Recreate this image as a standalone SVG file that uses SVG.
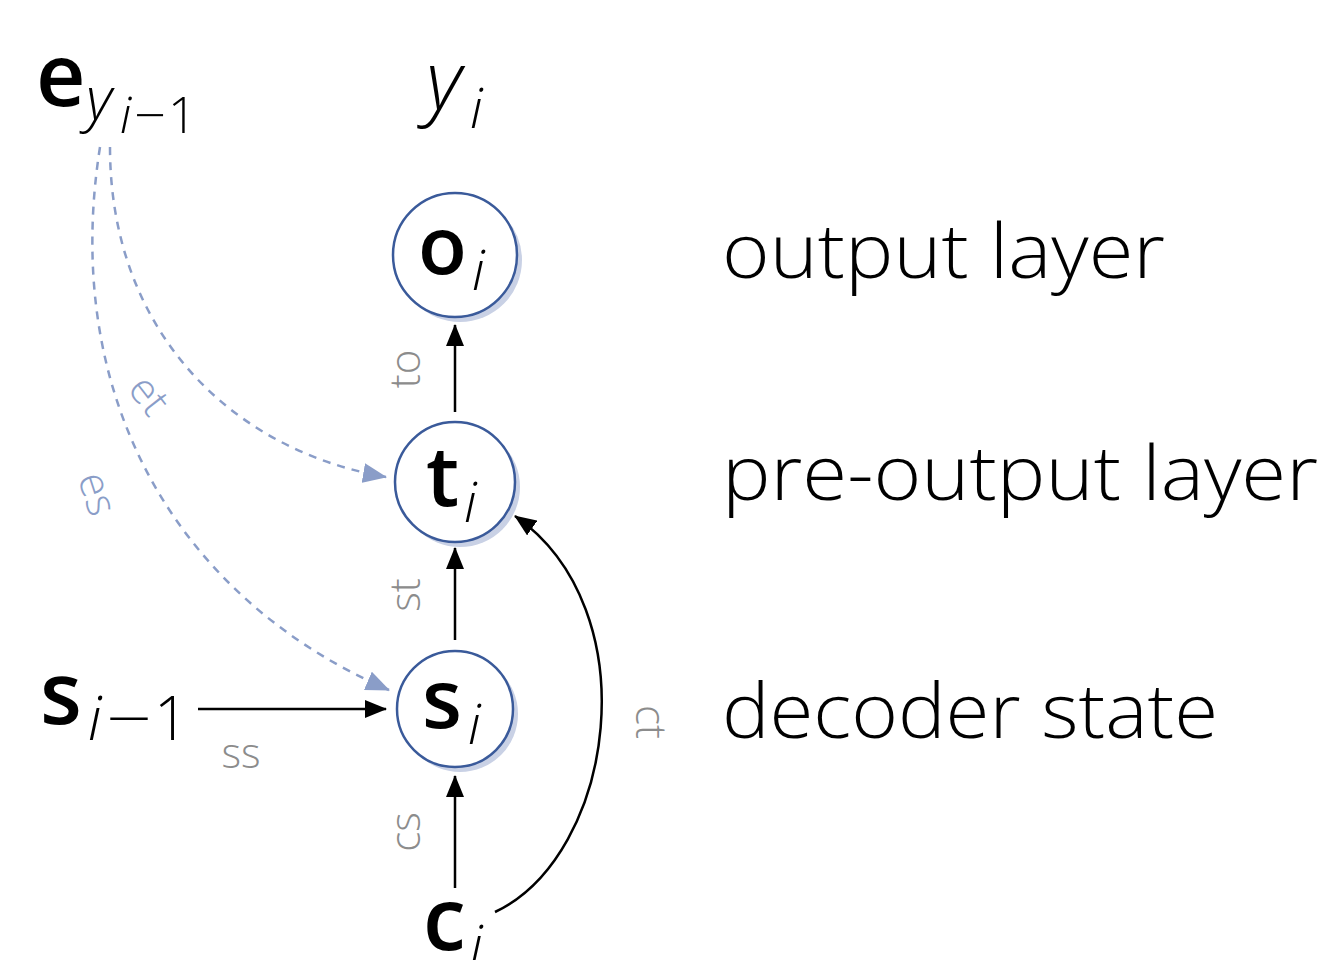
<svg xmlns="http://www.w3.org/2000/svg" width="1328" height="960" viewBox="0 0 1328 960">
<style>
.bold{font-family:"Open Sans","Noto Sans",sans-serif;font-weight:600;fill:#000}
.it{font-family:"Open Sans","Noto Sans",sans-serif;font-style:italic;font-weight:300;fill:#000}
.lt{font-family:"Open Sans","Noto Sans",sans-serif;font-weight:300;fill:#000}
.lab{font-family:"Open Sans","Noto Sans",sans-serif;font-weight:300;font-size:42px;fill:#8c8c8c}
.elab{font-family:"Open Sans","Noto Sans",sans-serif;font-weight:300;font-size:42px;fill:#8a9dc8}
.big{font-family:"Open Sans","Noto Sans",sans-serif;font-weight:300;font-size:76px;fill:#000}
.node{fill:#fff;stroke:#3a5a9a;stroke-width:2.5}
.shadow{fill:#c9d1e5}
.edge{fill:none;stroke:#000;stroke-width:2.5}
.dash{fill:none;stroke:#8a9dc8;stroke-width:2.5;stroke-dasharray:8 7}
</style>
<defs>
<marker id="ah" markerWidth="22" markerHeight="18" refX="21" refY="9" orient="auto" markerUnits="userSpaceOnUse"><path d="M0,0 L22,9 L0,18 z" fill="#000"/></marker>
<marker id="ahb" markerWidth="24" markerHeight="20" refX="23" refY="10" orient="auto" markerUnits="userSpaceOnUse"><path d="M0,0 L24,10 L0,20 z" fill="#8a9dc8"/></marker>
</defs>
<g id="connectors">
<path class="edge" d="M455,412 L455,325" marker-end="url(#ah)"/>
<path class="edge" d="M455,640 L455,548" marker-end="url(#ah)"/>
<path class="edge" d="M455,888 L455,776" marker-end="url(#ah)"/>
<path class="edge" d="M198,709 L386,709" marker-end="url(#ah)"/>
<path class="edge" d="M495,912 C615,855 650,610 515,516" marker-end="url(#ah)"/>
<path class="dash" d="M110,147 C110,330 230,450 386,477" marker-end="url(#ahb)"/>
<path class="dash" d="M100,147 C60,400 180,600 389,690" marker-end="url(#ahb)"/>
<text class="lab" transform="translate(420,369) rotate(-90)" text-anchor="middle">to</text>
<text class="lab" transform="translate(420,595) rotate(-90)" text-anchor="middle">st</text>
<text class="lab" transform="translate(420,832) rotate(-90)" text-anchor="middle">cs</text>
<text class="lab" transform="translate(636,722) rotate(90)" text-anchor="middle">ct</text>
<text class="lab" x="241" y="768" text-anchor="middle">ss</text>
<text class="elab" transform="translate(138,404) rotate(52)" text-anchor="middle">et</text>
<text class="elab" transform="translate(84,498) rotate(72)" text-anchor="middle">es</text>
</g>
<g id="node-o">
<circle class="shadow" cx="460" cy="260" r="62"/>
<circle class="node" cx="455" cy="255" r="62"/>
<text x="418" y="274" class="bold" font-size="80">o</text>
<text x="472" y="290" class="it" font-size="56">i</text>
</g>
<g id="node-t">
<circle class="shadow" cx="460" cy="487" r="60"/>
<circle class="node" cx="455" cy="482" r="60"/>
<text x="426" y="506" class="bold" font-size="84">t</text>
<text x="464" y="522" class="it" font-size="56">i</text>
</g>
<g id="node-s">
<circle class="shadow" cx="460" cy="714" r="58"/>
<circle class="node" cx="455" cy="709" r="58"/>
<text x="422" y="728" class="bold" font-size="82">s</text>
<text x="468" y="744" class="it" font-size="56">i</text>
</g>
<g id="node-e">
<text x="36" y="106" class="bold" font-size="86">e</text>
<text x="86" y="120" class="it" font-size="60">y</text>
<text x="120" y="133" class="it" font-size="50">i</text>
<text x="134" y="133" class="lt" font-size="50" textLength="32" lengthAdjust="spacingAndGlyphs">−</text>
<text x="168" y="133" class="lt" font-size="50">1</text>
</g>
<g id="node-y">
<text x="426" y="110" class="it" font-size="82">y</text>
<text x="470" y="128" class="it" font-size="56">i</text>
</g>
<g id="node-sprev">
<text x="40" y="724" class="bold" font-size="86">s</text>
<text x="88" y="740" class="it" font-size="60">i</text>
<text x="106" y="740" class="lt" font-size="60" textLength="46" lengthAdjust="spacingAndGlyphs">−</text>
<text x="154" y="740" class="lt" font-size="60">1</text>
</g>
<g id="node-c">
<text x="423" y="950" class="bold" font-size="86">c</text>
<text x="470" y="965" class="it" font-size="56">i</text>
</g>
<g id="labels">
<text x="722" y="278" class="big" textLength="443" lengthAdjust="spacingAndGlyphs">output layer</text>
<text x="722" y="500" class="big" textLength="596" lengthAdjust="spacingAndGlyphs">pre-output layer</text>
<text x="722" y="738" class="big" textLength="496" lengthAdjust="spacingAndGlyphs">decoder state</text>
</g>
</svg>
